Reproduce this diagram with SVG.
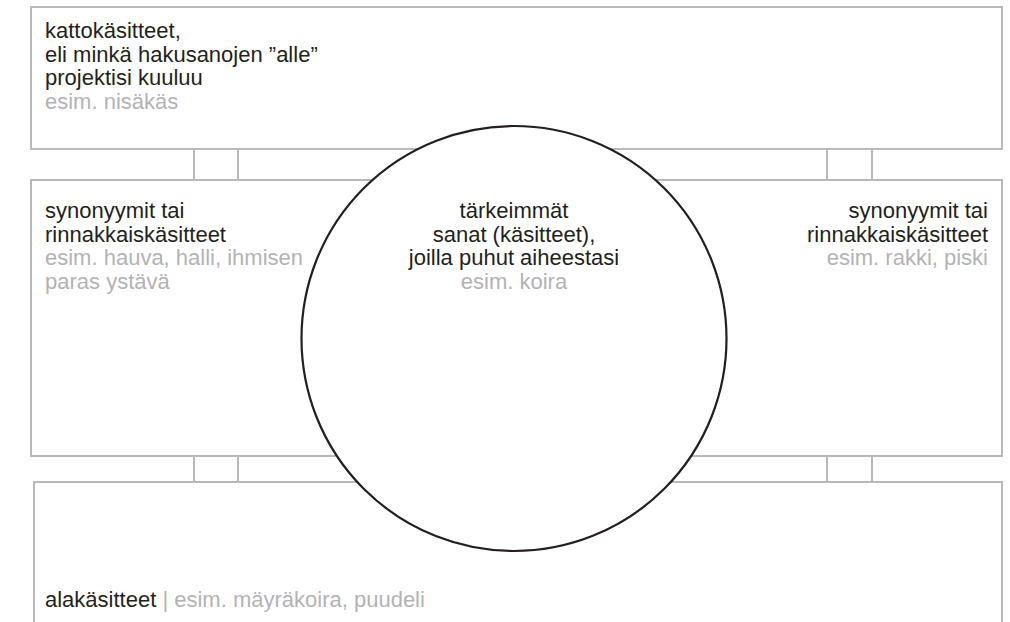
<svg xmlns="http://www.w3.org/2000/svg" width="1010" height="622" viewBox="0 0 1010 622">
<style>
.box{fill:#fff;stroke:#b9b9bb;stroke-width:2}
.con{stroke:#b9b9bb;stroke-width:2;fill:none}
text{font-family:"Liberation Sans",Arial,sans-serif;font-size:22px;fill:#231f20}
.g{fill:#b3b3b6}
.hub{fill:#fff;stroke:#231f20;stroke-width:2.2}
</style>
<rect width="1010" height="622" fill="#fff"/>
<g id="connectors">
<line class="con" x1="194" y1="149" x2="194" y2="180"/>
<line class="con" x1="238" y1="149" x2="238" y2="180"/>
<line class="con" x1="827" y1="149" x2="827" y2="180"/>
<line class="con" x1="872" y1="149" x2="872" y2="180"/>
<line class="con" x1="194" y1="456" x2="194" y2="482"/>
<line class="con" x1="238" y1="456" x2="238" y2="482"/>
<line class="con" x1="827" y1="456" x2="827" y2="482"/>
<line class="con" x1="872" y1="456" x2="872" y2="482"/>
</g>
<g id="top">
<rect class="box" x="31" y="7" width="971" height="142"/>
<text x="45" y="38">kattokäsitteet,</text>
<text x="45" y="61.5">eli minkä hakusanojen ”alle”</text>
<text x="45" y="85">projektisi kuuluu</text>
<text class="g" x="45" y="108.5">esim. nisäkäs</text>
</g>
<g id="middle">
<rect class="box" x="31" y="180" width="971" height="276"/>
</g>
<g id="bottom">
<rect class="box" x="34" y="482" width="968" height="160"/>
<text x="45" y="607">alakäsitteet<tspan class="g"> | esim. mäyräkoira, puudeli</tspan></text>
</g>
<g id="left">
<text x="45" y="218">synonyymit tai</text>
<text x="45" y="241.5">rinnakkaiskäsitteet</text>
<text class="g" x="45" y="265">esim. hauva, halli, ihmisen</text>
<text class="g" x="45" y="288.5">paras ystävä</text>
</g>
<g id="right">
<text x="988" y="218" text-anchor="end">synonyymit tai</text>
<text x="988" y="241.5" text-anchor="end">rinnakkaiskäsitteet</text>
<text class="g" x="988" y="265" text-anchor="end">esim. rakki, piski</text>
</g>
<g id="center">
<circle class="hub" cx="514" cy="338.5" r="212.5"/>
<text x="514" y="218" text-anchor="middle">tärkeimmät</text>
<text x="514" y="241.5" text-anchor="middle">sanat (käsitteet),</text>
<text x="514" y="265" text-anchor="middle">joilla puhut aiheestasi</text>
<text class="g" x="514" y="288.5" text-anchor="middle">esim. koira</text>
</g>
</svg>
